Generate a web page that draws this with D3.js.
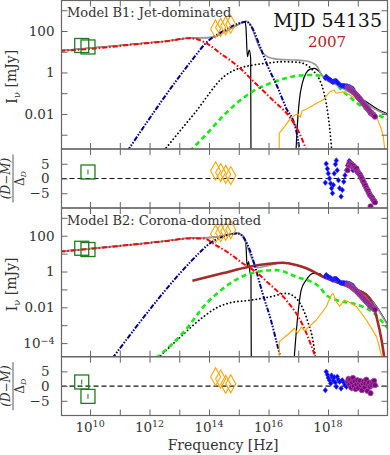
<!DOCTYPE html>
<html>
<head>
<meta charset="utf-8">
<script src="https://cdn.jsdelivr.net/npm/d3@7"></script>
<style>
  body { margin: 0; background: #fff; }
  text { font-family: "DejaVu Serif", serif; fill: #333; }
</style>
</head>
<body>
<div id="chart"></div>
<script>
// every pair is [log10(frequency / Hz), log10(flux / mJy)]

// observed data (same in both models)
const radioData = [[9.72, 1.30], [9.93, 1.23]];
const oirData = [[14.22, 2.10], [14.39, 2.17], [14.56, 2.25], [14.73, 2.33]];
const pcaData = [[17.91, -0.27], [17.94, -0.20], [17.98, -0.26], [18.01, -0.30], [18.05, -0.34],
  [18.09, -0.38], [18.12, -0.42], [18.15, -0.45], [18.18, -0.44], [18.21, -0.42], [18.25, -0.41],
  [18.28, -0.42], [18.31, -0.47], [18.35, -0.53], [18.39, -0.58], [18.44, -0.64], [18.48, -0.64],
  [18.53, -0.64], [18.57, -0.65], [18.62, -0.66], [18.66, -0.67], [18.71, -0.69], [18.75, -0.72],
  [18.80, -0.76], [18.84, -0.80]];
const hexteData = [[18.66, -0.70], [18.69, -0.76], [18.72, -0.78], [18.75, -0.80], [18.78, -0.84],
  [18.81, -0.88], [18.84, -0.91], [18.87, -0.96], [18.90, -1.00], [18.93, -1.05], [18.96, -1.09],
  [18.99, -1.15], [19.02, -1.19], [19.05, -1.25], [19.08, -1.29], [19.11, -1.35], [19.14, -1.40],
  [19.17, -1.46], [19.20, -1.51], [19.23, -1.56], [19.26, -1.62], [19.29, -1.67], [19.32, -1.72],
  [19.35, -1.77], [19.38, -1.83], [19.41, -1.87], [19.43, -1.95], [19.46, -1.94], [19.49, -2.00],
  [19.52, -2.04], [19.55, -2.08], [19.58, -2.13]];

// residuals (D-M)/Delta_D, same order as the data
const radioResB1 = [null, 2.2];
const oirResB1 = [2.6, 2.0, 1.4, 1.0];
const pcaResB1 = [-1.4, 5.0, 3.3, 1.7, 0, -1.7, -3.3, -5.0, -2.2, 1.7, 4.8, 6.1, 2.8, -0.6, -3.3,
  -6.1, -3.9, -1.1, 1.1, 2.8, 4.4, 5.9, 5.6, 4.4, 2.8];
const hexteResB1 = [2.8, 4.5, 5.2, 4.4, 5.0, 4.6, 3.8, 4.2, 3.6, 3.0, 3.4, 2.4, 2.0, 1.6, 1.2, 0.6,
  0.0, -0.8, -1.2, -2.0, -2.4, -3.2, -3.8, -4.2, -5.0, -5.6, -9.4, -6.2, -6.6, -7.2, -7.6, -8.1];

const radioResB2 = [1.4, -3.5];
const oirResB2 = [3.2, 2.4, 0.6, 0.8];
const pcaResB2 = [-1.4, 4.9, 3.9, 2.8, 2.0, 0.9, 3.6, 3.0, 1.8, 3.0, 1.2, -0.2, 3.2, 2.2, 1.5,
  -0.8, 2.0, 1.2, 0.4, -0.2, 1.5, 0.3, 1.0, -0.8, 0.5];
const hexteResB2 = [1.5, 2.5, 0.5, 2.2, -0.5, 1.2, 2.8, 0.0, 1.6, -1.0, 0.6, 2.0, -0.6, 1.0, 1.8, 0.2,
  -1.4, 0.8, 1.6, -0.4, 0.9, 2.2, -1.6, 0.5, 1.2, -0.2, -2.4, 0.4, 1.4, 0.8, 1.8, 0.3];

// model B1: jet-dominated
const b1Total = [[9.0, 1.05], [11.3, 1.34], [12.65, 1.53], [13.32, 1.66], [14.1, 1.69], [14.51, 1.95],
  [14.84, 2.2], [15.11, 2.4], [15.25, 2.47], [15.4, 2.3], [15.58, 1.6], [15.75, 1.05], [15.92, 0.8],
  [16.13, 0.68], [16.47, 0.62], [16.9, 0.6], [17.27, 0.55], [17.6, 0.36], [17.82, -0.2], [18.39, -0.68],
  [18.96, -1.17], [19.63, -1.81], [20.0, -2.05]];
const b1Absorbed = [[9.0, 1.05], [11.3, 1.34], [12.65, 1.53], [13.32, 1.66], [14.1, 1.69], [14.51, 1.95],
  [14.84, 2.2], [15.11, 2.4], [15.2, 2.45], [15.24, 2.2], [15.29, 0.76], [15.35, 1.08], [15.4, 0.7],
  [15.41, -3.9], null, [16.92, -3.9], [16.95, -3.0], [17.04, -1.3], [17.14, -0.5], [17.26, -0.04],
  [17.4, 0.16], [17.55, 0.2], [17.7, 0.05], [17.82, -0.16], [18.39, -0.64], [18.96, -1.12],
  [19.3, -1.42], [19.63, -1.74], [20.0, -2.0]];
const b1Synch = [[9.0, 1.04], [10.5, 1.2], [11.3, 1.33], [12.65, 1.52], [13.32, 1.65], [13.6, 1.6],
  [14.0, 1.33], [14.44, 0.86], [14.7, 0.6], [15.01, 0.25], [15.46, -0.38], [16.14, -1.33],
  [16.7, -2.13], [17.04, -2.93], [17.3, -3.85]];
const b1Disk = [[11.25, -3.8], [13.43, 0.6], [13.89, 1.41], [14.44, 1.97], [15.01, 2.37], [15.24, 2.45],
  [15.45, 2.15], [15.7, 1.3], [15.98, 0.28], [16.3, -0.7], [16.57, -1.65], [16.93, -2.8], [17.05, -3.8]];
const b1Dotted = [[12.48, -3.77], [13.5, -1.99], [14.57, -0.12], [15.01, 0.2], [15.5, 0.36], [16.03, 0.46],
  [16.5, 0.52], [16.93, 0.5], [17.2, 0.42], [17.38, 0.26], [17.58, -0.05], [17.72, -0.36], [17.85, -0.9],
  [17.94, -1.48], [18.05, -2.61], [18.13, -3.8]];
const b1Green = [[13.35, -3.8], [13.89, -3.01], [14.56, -1.97], [15.45, -0.93], [16.0, -0.55],
  [16.57, -0.28], [17.0, -0.15], [17.46, -0.12], [18.02, -0.28], [18.58, -1.0], [19.14, -1.65],
  [19.6, -2.0], [20.0, -2.25]];
const b1Orange = [[16.36, -3.9], [16.36, -2.92], [16.55, -2.6], [16.72, -2.25], [16.87, -2.08],
  [16.98, -2.0], [17.07, -2.15], [17.13, -1.85], [17.3, -1.75], [17.6, -1.5], [17.83, -1.33],
  [18.06, -0.93], [18.2, -0.84], [18.27, -1.0], [18.35, -0.98], [18.5, -0.93], [18.72, -1.08],
  [19.17, -1.47], [19.63, -2.13], [19.78, -2.67], [19.86, -3.1], [19.92, -3.9]];

// model B2: corona-dominated
const b2Total = [[9.0, 1.12], [11.3, 1.49], [12.65, 1.73], [13.32, 1.87], [14.1, 1.91], [14.61, 2.04],
  [14.95, 2.15], [15.15, 1.98], [15.29, 1.39], [15.46, 0.64], [15.63, 0.22], [15.9, 0.3], [16.48, 0.5],
  [16.93, 0.37], [17.27, 0.19], [17.83, -0.28], [18.39, -0.64], [18.96, -1.0], [19.29, -1.28],
  [19.63, -2.0], [20.0, -3.0]];
const b2Absorbed = [[9.0, 1.12], [11.3, 1.49], [12.65, 1.73], [13.32, 1.87], [14.1, 1.91], [14.61, 2.04],
  [14.95, 2.15], [15.15, 1.98], [15.24, 1.5], [15.28, 0.3], [15.33, 0.55], [15.38, -0.1], [15.41, -0.2],
  [15.42, -4.9], null, [16.86, -4.9], [16.98, -2.53], [17.1, -1.03], [17.27, -0.47], [17.49, -0.1],
  [17.72, -0.12], [17.83, -0.26], [18.39, -0.62], [18.96, -0.98], [19.29, -1.26], [19.63, -1.95],
  [20.0, -2.95]];
const b2Synch = [[9.0, 1.11], [11.3, 1.48], [12.65, 1.72], [13.32, 1.85], [13.83, 1.84], [14.22, 1.48],
  [14.68, 1.02], [15.13, 0.46], [15.58, -0.03], [16.03, -0.7], [16.59, -1.59], [17.15, -2.99],
  [17.49, -4.38], [17.6, -4.9]];
const b2Disk = [[10.75, -4.85], [13.77, 1.2], [13.89, 1.39], [14.45, 1.94], [14.96, 2.13], [15.18, 1.85],
  [15.41, 1.02], [15.58, 0.08], [15.8, -1.22], [16.08, -2.71], [16.31, -4.2], [16.42, -4.9]];
const b2Dotted = [[12.28, -4.85], [12.99, -3.73], [13.89, -2.43], [14.22, -2.06], [14.68, -1.76],
  [15.46, -1.59], [16.1, -1.4], [16.59, -1.22], [16.93, -1.5], [17.15, -2.06], [17.32, -2.8],
  [17.49, -3.83], [17.58, -4.85]];
const b2Green = [[12.22, -4.85], [13.21, -3.27], [13.89, -1.82], [14.45, -0.98], [15.01, -0.36],
  [15.58, -0.03], [16.25, 0.08], [16.93, -0.29], [17.72, -0.87], [17.9, -1.25], [18.28, -1.59],
  [18.96, -1.84], [19.52, -2.29], [20.0, -3.16]];
const b2Corona = [[13.44, -0.51], [14.45, -0.1], [15.35, 0.27], [16.0, 0.43], [16.48, 0.49], [16.93, 0.36],
  [17.27, 0.18], [17.83, -0.29], [18.39, -0.66], [18.96, -1.03], [19.29, -1.31], [19.51, -1.87],
  [19.64, -2.6], [19.8, -3.83], [19.9, -4.9]];
const b2Orange = [[16.36, -4.9], [16.36, -3.92], [16.7, -3.45], [16.87, -3.17], [16.98, -3.44],
  [17.1, -3.1], [17.21, -3.32], [17.61, -2.71], [17.94, -1.97], [18.11, -1.31], [18.17, -1.22],
  [18.28, -1.69], [18.39, -1.93], [18.56, -1.59], [18.73, -1.73], [18.96, -1.97], [19.29, -2.71],
  [19.63, -3.64], [19.83, -4.9]];

// axis ticks
const xDecades = [10, 11, 12, 13, 14, 15, 16, 17, 18, 19];
const xLabelled = [10, 12, 14, 16, 18];
const resTicks = [-5, 0, 5];

const left = 61.5, right = 387.5;
const svg = d3.select('#chart').append('svg').attr('width', 390).attr('height', 455);

const x = d3.scaleLog().domain([10 ** 9.04, 1e20]).range([left, right]);
const px = d => x(10 ** d);

const styles = {
  absorbed: {stroke: '#000', width: 1.2},
  total: {stroke: '#9a9a9a', width: 1.6},
  dotted: {stroke: '#000', width: 1.8, dash: '0.1,3.6', cap: 'round'},
  green: {stroke: '#11ee11', width: 2.6, dash: '5,3.5'},
  corona: {stroke: '#a52a2a', width: 2.6},
  disk: {stroke: '#00008b', width: 2, dash: '5,1.5,1.5,1.5,1.5,1.5'},
  synch: {stroke: '#ff0000', width: 2, dash: '5,2,1.5,2'},
  orange: {stroke: '#ffa500', width: 1.1, linear: true}
};

const ink = '#666';

function frameAndXTicks(g, top, bottom) {
  g.append('g').attr('transform', `translate(0,${bottom})`)
    .call(d3.axisBottom(x).tickValues(xDecades.map(d => 10 ** d)).tickSize(-6).tickFormat(''));
  g.append('g').attr('transform', `translate(0,${top})`)
    .call(d3.axisTop(x).tickValues(xDecades.map(d => 10 ** d)).tickSize(-6).tickFormat(''));
}

function styleAxes(g) {
  g.selectAll('.domain').remove();
  g.selectAll('.tick line').attr('stroke', ink);
  g.selectAll('.tick text').attr('fill', '#333').style('font-family', '"DejaVu Serif", serif');
}

function clip(id, top, bottom) {
  svg.append('clipPath').attr('id', id).append('rect')
    .attr('x', left).attr('y', top).attr('width', right - left).attr('height', bottom - top);
  return svg.append('g').attr('clip-path', `url(#${id})`);
}

function diamond(w, h) {
  return `M0,${-h / 2}L${w / 2},0L0,${h / 2}L${-w / 2},0Z`;
}

function fluxPanel(cfg) {
  const y = d3.scaleLog().domain([10 ** cfg.yMin, 10 ** cfg.yMax]).range([cfg.bottom, cfg.top]);
  const py = d => y(10 ** d);
  const plot = clip('clip-' + cfg.id, cfg.top, cfg.bottom);

  cfg.curves.forEach(([data, key]) => {
    const s = styles[key];
    const line = d3.line().defined(d => d != null).x(d => px(d[0])).y(d => py(d[1]))
      .curve(s.linear ? d3.curveLinear : d3.curveMonotoneX);
    plot.append('path').datum(data).attr('d', line)
      .attr('fill', 'none').attr('stroke', s.stroke).attr('stroke-width', s.width)
      .attr('stroke-dasharray', s.dash || null).attr('stroke-linecap', s.cap || 'butt')
      .attr('stroke-linejoin', 'round');
  });

  // data
  plot.selectAll('.radio').data(radioData).join('rect')
    .attr('x', d => px(d[0]) - 7).attr('y', d => py(d[1]) - 7).attr('width', 14).attr('height', 14)
    .attr('fill', 'none').attr('stroke', '#1d7d1d').attr('stroke-width', 1.3);
  plot.selectAll('.oir').data(oirData).join('path')
    .attr('d', diamond(10, 18)).attr('transform', d => `translate(${px(d[0])},${py(d[1])})`)
    .attr('fill', 'none').attr('stroke', '#ffa500').attr('stroke-width', 1.1);
  plot.selectAll('.pca').data(pcaData).join('path')
    .attr('d', diamond(4.5, 5.5)).attr('transform', d => `translate(${px(d[0])},${py(d[1])})`)
    .attr('fill', '#0000ff').attr('stroke', '#3a3aff').attr('stroke-width', 0.6);
  plot.selectAll('.hexte').data(hexteData).join('circle')
    .attr('cx', d => px(d[0])).attr('cy', d => py(d[1])).attr('r', 2.6)
    .attr('fill', '#800080').attr('stroke', '#a050a0').attr('stroke-width', 0.8);

  // axes
  const decades = d3.range(Math.ceil(cfg.yMin), Math.floor(cfg.yMax) + 1);
  const g = svg.append('g');
  const yl = g.append('g').attr('transform', `translate(${left},0)`)
    .call(d3.axisLeft(y).tickValues(decades.map(d => 10 ** d)).tickSize(-6).tickPadding(7)
      .tickFormat(d => {
        const e = Math.round(Math.log10(d));
        return {2: '100', 0: '1', '-2': '0.01'}[e] || '';
      }));
  yl.selectAll('.tick text').style('font-size', '13.5px').each(function(d) {
    const e = Math.round(Math.log10(d));
    if (e === -4) {
      const t = d3.select(this).text(null);
      t.append('tspan').text('10');
      t.append('tspan').attr('dy', '-0.45em').style('font-size', '9.5px').text('−4');
    }
  });
  g.append('g').attr('transform', `translate(${right},0)`)
    .call(d3.axisRight(y).tickValues(decades.map(d => 10 ** d)).tickSize(-6).tickFormat(''));
  frameAndXTicks(g, cfg.top, cfg.bottom);
  styleAxes(g);
  g.append('rect').attr('x', left).attr('y', cfg.top).attr('width', right - left)
    .attr('height', cfg.bottom - cfg.top).attr('fill', 'none').attr('stroke', ink).attr('stroke-width', 1.2);

  svg.append('text').attr('x', 67).attr('y', cfg.top + 16.5).style('font-size', '13px')
    .text(cfg.title);

  const yt = svg.append('text').attr('transform', `translate(17,${(cfg.top + cfg.bottom) / 2 + 2}) rotate(-90)`)
    .attr('text-anchor', 'middle').style('font-size', '14px');
  yt.append('tspan').text('I');
  yt.append('tspan').attr('dy', '0.3em').style('font-size', '10px').text('ν');
  yt.append('tspan').attr('dy', '-0.3em').text(' [mJy]');
}

function resPanel(cfg) {
  const y = d3.scaleLinear().domain([-10, 10]).range([cfg.bottom, cfg.top]);
  const plot = clip('clip-' + cfg.id, cfg.top, cfg.bottom);

  plot.append('line').attr('x1', left).attr('x2', right).attr('y1', y(0)).attr('y2', y(0))
    .attr('stroke', '#111').attr('stroke-width', 1.2).attr('stroke-dasharray', '5,3');

  const radio = radioData.map((d, i) => [d[0], cfg.radio[i]]).filter(d => d[1] != null);
  const sq = plot.selectAll('.rs').data(radio).join('g')
    .attr('transform', d => `translate(${px(d[0])},${y(d[1])})`);
  sq.append('rect').attr('x', -7).attr('y', -7).attr('width', 14).attr('height', 14)
    .attr('fill', 'none').attr('stroke', '#1d7d1d').attr('stroke-width', 1.3);
  sq.append('line').attr('y1', -2.5).attr('y2', 2.5).attr('stroke', '#1d7d1d').attr('stroke-width', 1);

  plot.selectAll('.os').data(oirData.map((d, i) => [d[0], cfg.oir[i]])).join('path')
    .attr('d', diamond(10, 18)).attr('transform', d => `translate(${px(d[0])},${y(d[1])})`)
    .attr('fill', 'none').attr('stroke', '#ffa500').attr('stroke-width', 1.1);
  plot.selectAll('.ps').data(pcaData.map((d, i) => [d[0], cfg.pca[i]])).join('path')
    .attr('d', diamond(4.5, 5.5)).attr('transform', d => `translate(${px(d[0])},${y(d[1])})`)
    .attr('fill', '#0000ff').attr('stroke', '#3a3aff').attr('stroke-width', 0.6);
  plot.selectAll('.hs').data(hexteData.map((d, i) => [d[0], cfg.hexte[i]])).join('circle')
    .attr('cx', d => px(d[0])).attr('cy', d => y(d[1])).attr('r', 2.6)
    .attr('fill', '#800080').attr('stroke', '#a050a0').attr('stroke-width', 0.8);

  const g = svg.append('g');
  const yl = g.append('g').attr('transform', `translate(${left},0)`)
    .call(d3.axisLeft(y).tickValues(resTicks).tickSize(-6).tickPadding(12)
      .tickFormat(d => d < 0 ? '−' + Math.abs(d) : String(d)));
  yl.selectAll('.tick text').style('font-size', '13.5px');
  g.append('g').attr('transform', `translate(${right},0)`)
    .call(d3.axisRight(y).tickValues(resTicks).tickSize(-6).tickFormat(''));
  frameAndXTicks(g, cfg.top, cfg.bottom);
  styleAxes(g);
  g.append('rect').attr('x', left).attr('y', cfg.top).attr('width', right - left)
    .attr('height', cfg.bottom - cfg.top).attr('fill', 'none').attr('stroke', ink).attr('stroke-width', 1.2);

  // (D-M)/Delta_D label
  const cy = (cfg.top + cfg.bottom) / 2;
  const fl = svg.append('g').attr('transform', `translate(13,${cy}) rotate(-90)`);
  fl.append('text').attr('y', -3).attr('text-anchor', 'middle').style('font-size', '12px')
    .style('font-style', 'italic').text('(D−M)');
  fl.append('line').attr('x1', -24).attr('x2', 24).attr('stroke', '#333').attr('stroke-width', 0.8);
  const den = fl.append('text').attr('y', 10.5).attr('text-anchor', 'middle').style('font-size', '12px');
  den.append('tspan').text('Δ');
  den.append('tspan').attr('dy', '0.3em').style('font-size', '8px').style('font-style', 'italic').text('D');

  if (cfg.xLabels) {
    xLabelled.forEach(e => {
      const t = svg.append('text').attr('x', px(e)).attr('y', 431.5).attr('text-anchor', 'middle')
        .style('font-size', '13.5px');
      t.append('tspan').text('10');
      t.append('tspan').attr('dy', '-0.5em').style('font-size', '9.5px').text(String(e));
    });
  }
}

fluxPanel({id: 'p1', top: 0.5, bottom: 149, yMin: -3.69, yMax: 3.47, title: 'Model B1:  Jet-dominated',
  curves: [[b1Absorbed, 'absorbed'], [b1Total, 'total'], [b1Dotted, 'dotted'], [b1Green, 'green'],
    [b1Disk, 'disk'], [b1Synch, 'synch'], [b1Orange, 'orange']]});
resPanel({id: 'r1', top: 149, bottom: 208, radio: radioResB1, oir: oirResB1, pca: pcaResB1, hexte: hexteResB1});
fluxPanel({id: 'p2', top: 208, bottom: 356.7, yMin: -4.76, yMax: 3.55, title: 'Model B2:  Corona-dominated',
  curves: [[b2Absorbed, 'absorbed'], [b2Total, 'total'], [b2Dotted, 'dotted'], [b2Green, 'green'],
    [b2Corona, 'corona'], [b2Disk, 'disk'], [b2Synch, 'synch'], [b2Orange, 'orange']]});
resPanel({id: 'r2', top: 356.7, bottom: 415.5, radio: radioResB2, oir: oirResB2, pca: pcaResB2,
  hexte: hexteResB2, xLabels: true});

svg.append('text').attr('x', 382).attr('y', 27).attr('text-anchor', 'end')
  .style('font-size', '19px').style('fill', '#111').text('MJD 54135');
svg.append('text').attr('x', 327).attr('y', 46.5).attr('text-anchor', 'middle')
  .style('font-size', '15px').style('fill', '#b22222').text('2007');
svg.append('text').attr('x', 223).attr('y', 450).attr('text-anchor', 'middle')
  .style('font-size', '14px').text('Frequency [Hz]');
</script>
</body>
</html>
